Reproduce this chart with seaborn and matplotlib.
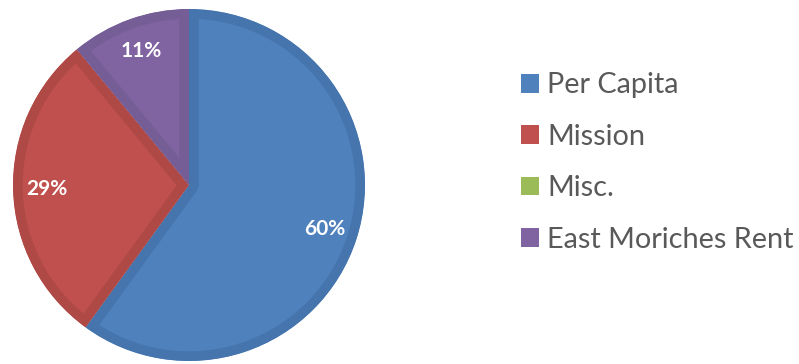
import matplotlib
matplotlib.use("Agg")
import matplotlib.pyplot as plt
import seaborn as sns
from matplotlib.patches import Patch

categories = ["Per Capita", "Mission", "Misc.", "East Moriches Rent"]
values = [60, 29, 0, 11]
colors = ["#4F81BD", "#C0504D", "#9BBB59", "#8064A2"]
edges = ["#4675AE", "#AF4946", "#8CA950", "#755D95"]

sns.set_theme(style="white")
plt.rcParams["font.family"] = ["Lato", "DejaVu Sans"]

fig = plt.figure(figsize=(7.99, 3.64), dpi=100)
cx, cy, r = 189, 185, 176
ax = fig.add_axes([(cx - r) / 799, (364 - cy - r) / 364, 2 * r / 799, 2 * r / 364])

wedges, texts, autotexts = ax.pie(
    values, colors=colors, startangle=90, counterclock=False, radius=1,
    autopct=lambda p: f"{p:.0f}%" if p > 0 else "", pctdistance=0.81,
    wedgeprops=dict(linewidth=14, joinstyle="round"),
    textprops=dict(color="white", fontsize=15, fontweight="bold"),
)
for w, ec in zip(wedges, edges):
    w.set_edgecolor(ec)
    w.set_clip_on(True)
    w.set_clip_path(w)
    if w.theta2 - w.theta1 <= 0:
        w.set_visible(False)
ax.set_xlim(-1, 1)
ax.set_ylim(-1, 1)
ax.set_aspect("equal")
ax.axis("off")

handles = [Patch(facecolor=c, edgecolor="none") for c in colors]
fig.legend(handles, categories, loc="center left",
           bbox_to_anchor=(521 / 799, 1 - 162.5 / 364), frameon=False,
           fontsize=20.8, labelcolor="#595959", handlelength=0.62, handleheight=0.62,
           handletextpad=0.28, labelspacing=0.88, borderpad=0, borderaxespad=0)

fig.savefig("out.png", dpi=100)
